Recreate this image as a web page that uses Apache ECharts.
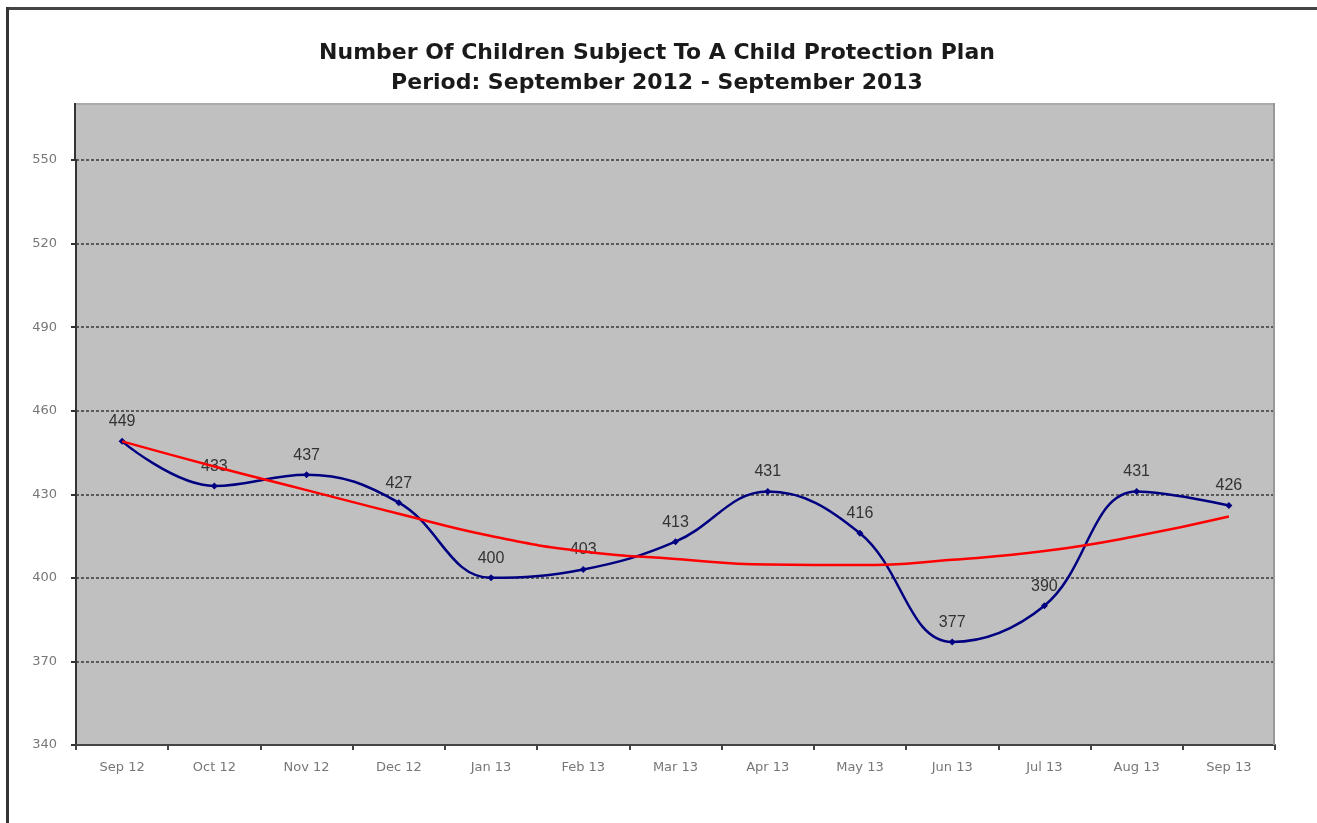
<!DOCTYPE html>
<html>
<head>
<meta charset="utf-8">
<title>Number Of Children Subject To A Child Protection Plan</title>
<script src="https://cdn.jsdelivr.net/npm/echarts@6/dist/echarts.min.js"></script>
<style>
  html, body { margin: 0; padding: 0; background: #ffffff; }
  #chart { width: 1317px; height: 823px; }
</style>
</head>
<body>
<div id="chart"></div>
<script>
// Monthly snapshot, September 2012 to September 2013
const months = ['Sep 12', 'Oct 12', 'Nov 12', 'Dec 12', 'Jan 13', 'Feb 13', 'Mar 13',
                'Apr 13', 'May 13', 'Jun 13', 'Jul 13', 'Aug 13', 'Sep 13'];

// Children subject to a child protection plan
const childrenCount = [449, 433, 437, 427, 400, 403, 413, 431, 416, 377, 390, 431, 426];

// Polynomial trend line through the monthly counts
const trendValues = [449, 440, 431.5, 423, 415, 409.5, 406.8, 404.8, 404.6, 406.5, 409.6, 415, 422];

// Value axis range and step
const yMin = 340;
const yMax = 550;
const yStep = 30;

const chart = echarts.init(document.getElementById('chart'), null, { renderer: 'canvas' });

const plotBg = '#c0c0c0';

chart.setOption({
  animation: false,
  backgroundColor: '#ffffff',
  title: {
    text: 'Number Of Children Subject To A Child Protection Plan\nPeriod: September 2012 - September 2013',
    left: 652,
    textAlign: 'center',
    top: 33,
    textStyle: {
      fontFamily: 'DejaVu Sans',
      fontWeight: 'bold',
      fontSize: 22,
      lineHeight: 30,
      color: '#1a1a1a'
    }
  },
  graphic: [
    // frame lines
    { type: 'rect', shape: { x: 6, y: 7, width: 1311, height: 3 }, style: { fill: '#444444' }, z: 10 },
    { type: 'rect', shape: { x: 6, y: 7, width: 3, height: 816 }, style: { fill: '#333333' }, z: 10 },
    // plot-area headroom above the top gridline
    { type: 'rect', shape: { x: 76, y: 103, width: 1199, height: 57 }, style: { fill: plotBg }, z: -1 },
    { type: 'rect', shape: { x: 76, y: 103, width: 1199, height: 2 }, style: { fill: '#aaaaaa' }, z: 1 },
    { type: 'rect', shape: { x: 1273, y: 103, width: 2, height: 642 }, style: { fill: '#999999' }, z: 1 },
    { type: 'rect', shape: { x: 74, y: 103, width: 2, height: 58 }, style: { fill: '#333333' }, z: 1 }
  ],
  grid: {
    left: 76,
    right: 42,
    top: 160,
    bottom: 78,
    show: true,
    backgroundColor: plotBg,
    borderWidth: 0
  },
  xAxis: {
    type: 'category',
    data: months,
    boundaryGap: true,
    axisLine: { show: true, lineStyle: { color: '#444444', width: 2 } },
    axisTick: { show: true, length: 5, lineStyle: { color: '#444444', width: 2 } },
    axisLabel: {
      color: '#777777',
      fontFamily: 'DejaVu Sans',
      fontSize: 13,
      margin: 16
    },
    splitLine: { show: false }
  },
  yAxis: {
    type: 'value',
    min: yMin,
    max: yMax,
    interval: yStep,
    axisLine: { show: true, lineStyle: { color: '#333333', width: 2 } },
    axisTick: { show: true, length: 5, lineStyle: { color: '#333333', width: 2 } },
    axisLabel: {
      color: '#777777',
      fontFamily: 'DejaVu Sans',
      fontSize: 13,
      margin: 19
    },
    splitLine: {
      show: true,
      lineStyle: { color: '#5a5a5a', width: 2, type: [3, 2] }
    }
  },
  series: [
    {
      name: 'Children',
      type: 'line',
      data: childrenCount,
      smooth: 0.4,
      symbol: 'diamond',
      symbolSize: 7,
      showAllSymbol: true,
      lineStyle: { color: '#000080', width: 2.5 },
      itemStyle: { color: '#000080' },
      label: {
        show: true,
        position: 'top',
        distance: 8,
        color: '#333333',
        fontFamily: 'Liberation Sans',
        fontSize: 16
      },
      z: 3
    },
    {
      name: 'Trend',
      type: 'line',
      data: trendValues,
      smooth: true,
      symbol: 'none',
      lineStyle: { color: '#ff0000', width: 2.5 },
      itemStyle: { color: '#ff0000' },
      z: 4
    }
  ]
});
</script>
</body>
</html>
